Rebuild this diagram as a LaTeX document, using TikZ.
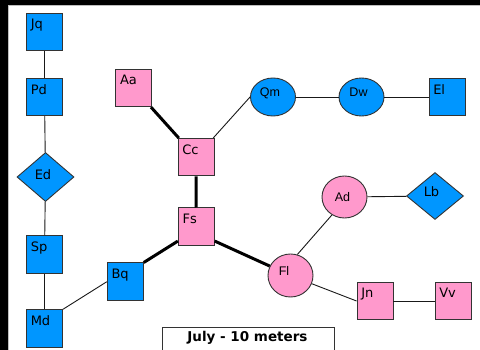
\documentclass[tikz,border=0pt]{standalone}
\usepackage{fontspec}
\setmainfont{DejaVu Sans}
\newfontfamily\arialf{Liberation Sans}
\usetikzlibrary{shapes.geometric,calc}
\definecolor{nblue}{RGB}{0,150,255}
\definecolor{npink}{RGB}{255,153,204}
\definecolor{nborder}{RGB}{51,51,51}
\begin{document}
\begin{tikzpicture}[x=1pt,y=-1pt,
  font=\fontsize{13}{15}\selectfont,
  base/.style={draw=nborder,line width=0.9pt,inner sep=0pt},
  sq/.style={base,rectangle,minimum width=36pt,minimum height=37.5pt},
  bluesq/.style={sq,fill=nblue},
  pinksq/.style={sq,fill=npink},
  ell/.style={base,ellipse,minimum width=45pt,minimum height=38pt},
  dia/.style={base,diamond,fill=nblue,minimum width=57pt,minimum height=49pt},
  tl/.style={label={[anchor=north west,inner sep=0pt,xshift=4.5pt,yshift=-6.5pt]north west:#1}},
  elab/.style n args={3}{label={[anchor=center,inner sep=0pt,xshift=#2,yshift=#3,font=\arialf\fontsize{12.5}{14}\selectfont]north:#1}},
  dlab/.style n args={3}{label={[anchor=center,inner sep=0pt,xshift=#2,yshift=#3]north:#1}},
  linkthin/.style={draw=black!90,line width=0.9pt},
  linkthick/.style={draw=black,line width=3pt},
]
\useasboundingbox (0,0) rectangle (480,350);
\fill[white] (0,0) rectangle (480,350);
\fill[black] (0,0) rectangle (480,5);
\fill[black] (0,0) rectangle (8,350);
\draw[gray!50,line width=1pt] (8.5,350) -- (8.5,5.5) -- (480,5.5);

% nodes
\node[bluesq,tl=Jq] (Jq) at (44.5,32) {};
\node[bluesq,tl=Pd] (Pd) at (44.5,97) {};
\node[dia,dlab={Ed}{-2.5pt}{-23pt}] (Ed) at (45.5,177) {};
\node[bluesq,tl=Sp] (Sp) at (44.5,254.5) {};
\node[bluesq,tl=Md] (Md) at (44.5,328.5) {};
\node[bluesq,tl=Bq] (Bq) at (125.3,281.7) {};
\node[pinksq,tl=Aa] (Aa) at (133.8,88) {};
\node[pinksq,tl=Cc] (Cc) at (196,157.2) {};
\node[pinksq,tl=Fs] (Fs) at (196.3,226.7) {};
\node[ell,fill=nblue,elab={Qm}{-3pt}{-15.5pt}] (Qm) at (273,97) {};
\node[ell,fill=nblue,elab={Dw}{-3pt}{-15pt}] (Dw) at (361.5,97) {};
\node[bluesq,tl=El] (El) at (447,97) {};
\node[ell,fill=npink,minimum height=42pt,elab={Ad}{-2pt}{-21pt}] (Ad) at (344.5,197) {};
\node[dia,minimum height=47pt,dlab={Lb}{-3.5pt}{-20pt}] (Lb) at (435,196) {};
\node[ell,fill=npink,minimum height=43pt,elab={Fl}{-6.5pt}{-17.5pt}] (Fl) at (290.5,275.5) {};
\node[pinksq,tl=Jn] (Jn) at (375,301) {};
\node[pinksq,tl=Vv] (Vv) at (453,301) {};

\node[draw=nborder,fill=white,line width=0.9pt,anchor=north west,minimum width=172pt,minimum height=30pt,inner sep=0pt,
  label={[anchor=center,inner sep=0pt,xshift=-1pt,yshift=-11pt,font=\bfseries\fontsize{13.5}{15}\selectfont]north:July - 10 meters}] (legend) at (162,327) {};

% connectors
\path[linkthin] (Jq) -- (Pd);
\path[linkthin] (Pd) -- (Ed);
\path[linkthin] (Ed) -- (Sp);
\path[linkthin] (Sp) -- (Md);
\path[linkthin] (Md.north east) -- (Bq.west);
\path[linkthick] (Bq.north east) -- ($(Fs.west)!0.75!(Fs.south west)$);
\path[linkthick] (Fs) -- (Cc);
\path[linkthick] (Aa) -- (Cc);
\path[linkthick] ($(Fs.east)!0.75!(Fs.south east)$) -- (Fl);
\path[linkthin] (Cc) -- (Qm.west);
\path[linkthin] (Qm) -- (Dw);
\path[linkthin] (Dw) -- (El);
\path[linkthin] (Fl.72) -- (Ad.-125);
\path[linkthin] (Ad) -- (Lb);
\path[linkthin] (Fl) -- (Jn.west);
\path[linkthin] (Jn) -- (Vv);
\end{tikzpicture}
\end{document}
